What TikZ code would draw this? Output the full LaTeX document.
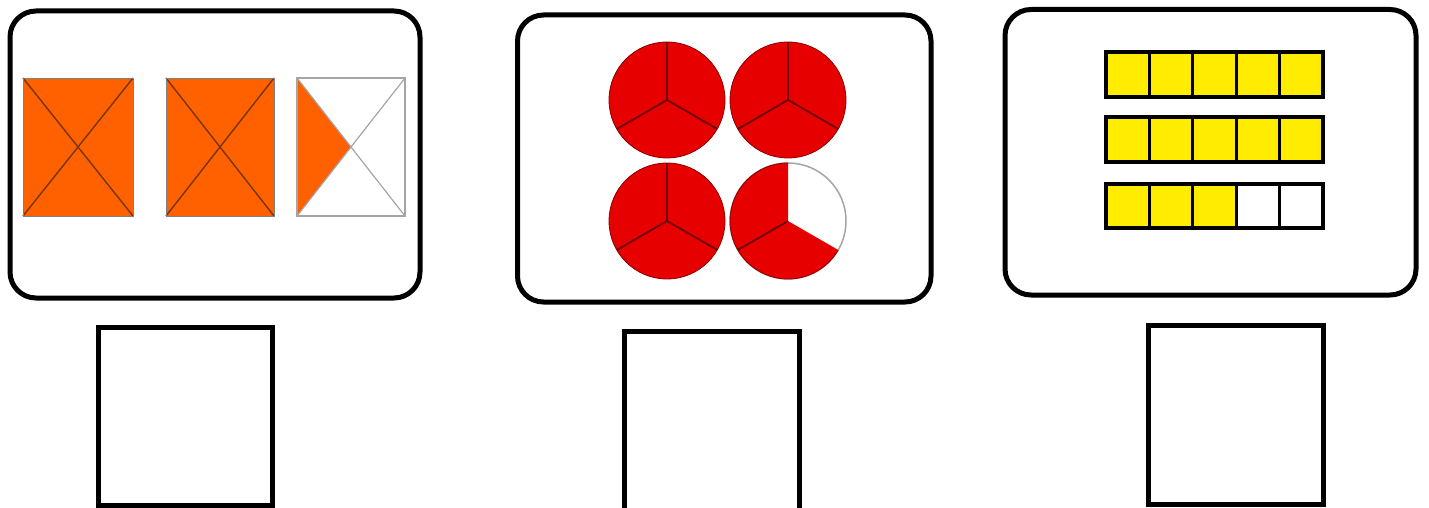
\documentclass[tikz,border=0pt]{standalone}
\usetikzlibrary{calc}
\definecolor{orangeF}{RGB}{255,96,0}
\definecolor{diagO}{RGB}{120,52,10}
\definecolor{redF}{RGB}{230,0,0}
\definecolor{redD}{RGB}{110,0,0}
\definecolor{yellowF}{RGB}{255,236,0}
\definecolor{grayL}{RGB}{165,165,165}
\tikzset{
  panel/.style={draw=black, line width=5pt, rounded corners=26pt, fill=white},
  answerbox/.style={draw=black, line width=5pt, fill=white},
  osq/.style={fill=orangeF, draw=diagO!70!gray, line width=0.8pt},
  odiag/.style={draw=diagO, line width=1.4pt},
  wsq/.style={draw=grayL, line width=1.2pt},
  pie/.style={fill=redF, draw=redD!80!red, line width=0.8pt},
  pdiv/.style={draw=redD, line width=1.8pt},
  cell/.style={draw=black, line width=3.2pt},
}
\begin{document}
\begin{tikzpicture}[x=1pt,y=1pt]
\useasboundingbox[fill=white] (0,0) rectangle (1429,-508);
% panels
\draw[panel] (10,-11) rectangle (420,-298);
\draw[panel] (517.5,-15) rectangle (931,-302);
\draw[panel] (1005,-9.5) rectangle (1416,-295);
% answer boxes
\draw[answerbox] (98.5,-327.5) rectangle (272.5,-505.5);
\draw[answerbox] (624.5,-331.5) rectangle (799.5,-510);
\draw[answerbox] (1148.5,-325.5) rectangle (1323.5,-504.5);
% orange squares
\foreach \xa/\xb in {23/133,166/274}{
  \fill[orangeF] (\xa,-78) rectangle (\xb,-216);
  \draw[odiag] (\xa,-78) -- (\xb,-216);
  \draw[odiag] (\xa,-216) -- (\xb,-78);
  \draw[draw=gray, line width=0.8pt] (\xa,-78) rectangle (\xb,-216);
}
\coordinate (c3) at (351,-147);
\fill[orangeF] (297,-78) -- (c3) -- (297,-216) -- cycle;
\draw[wsq] (297,-78) -- (405,-216);
\draw[wsq] (297,-216) -- (405,-78);
\draw[wsq] (297,-78) rectangle (405,-216);
% circles
\def\R{58}
\foreach \cx/\cy in {667/100,788/100,667/221}{
  \draw[pie] (\cx,-\cy) circle (\R);
  \draw[pdiv] (\cx,-\cy) -- ++(90:\R);
  \draw[pdiv] (\cx,-\cy) -- ++(210:\R);
  \draw[pdiv] (\cx,-\cy) -- ++(330:\R);
}
\coordinate (c4) at (788,-221);
\draw[grayL, line width=1.5pt, fill=white] (c4) circle (\R);
\fill[redF] (c4) -- ++(90:\R) arc[start angle=90, end angle=330, radius=\R] -- cycle;
\draw[redD!80!red, line width=0.8pt] ($(c4)+(90:\R)$) arc[start angle=90, end angle=330, radius=\R];
\draw[pdiv] (c4) -- ++(210:\R);
% yellow grid
\foreach \ya/\yb [count=\r] in {52/97,117/162,184/228}{
  \foreach \i in {0,...,4}{
    \pgfmathsetmacro{\xa}{1106+43.4*\i}
    \pgfmathsetmacro{\xb}{1106+43.4*(\i+1)}
    \ifnum\r=3
      \ifnum\i>2
        \draw[cell, fill=white] (\xa,-\ya) rectangle (\xb,-\yb);
      \else
        \draw[cell, fill=yellowF] (\xa,-\ya) rectangle (\xb,-\yb);
      \fi
    \else
      \draw[cell, fill=yellowF] (\xa,-\ya) rectangle (\xb,-\yb);
    \fi
  }
}
\end{tikzpicture}
\end{document}
